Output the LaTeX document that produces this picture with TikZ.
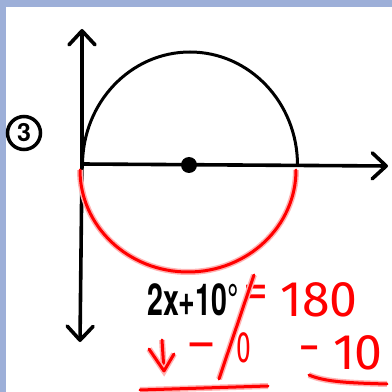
\documentclass[tikz,border=0pt]{standalone}
\usepackage{fontspec}
\setmainfont{TeX Gyre Heros}
\newfontfamily\handfont{Fira Sans}
\usetikzlibrary{arrows.meta}
\definecolor{bandblue}{RGB}{157,175,216}
\begin{document}
\begin{tikzpicture}[x=1pt,y=1pt,
  axis/.style={line width=3.6pt, line cap=round,
    -{Straight Barb[length=14pt,width=26pt,line width=3.6pt,round]}},
  ink/.style={draw=black,line width=3pt,line cap=round},
  redink/.style={draw=red,line width=3pt,line cap=round,line join=round,
    preaction={draw=red!30,line width=6pt}},
  redtext/.style={text=red,font=\handfont\fontsize{50}{50}\selectfont,inner sep=0pt},
  blacktext/.style={text=black,font=\bfseries\fontsize{44}{44}\selectfont,inner sep=0pt}]
\fill[white] (0,0) rectangle (392,392);
\useasboundingbox (0,0) rectangle (392,392);
\fill[bandblue] (0,385) rectangle (392,392);
\fill[bandblue] (0,0) rectangle (6,392);
% axes
\coordinate (O) at (82,228);
\coordinate (top) at (82,363);
\coordinate (bot) at (80,50);
\coordinate (right) at (388,226);
\draw[axis] (O) -- (top);
\draw[axis] (O) -- (bot);
\draw[axis] (O) -- (right);
% circle
\draw[ink] (82.5,227) arc[start angle=180,end angle=0,x radius=107.5,y radius=113];
\draw[redink] (80,222) arc[start angle=180,end angle=360,x radius=108,y radius=102];
\node[circle,fill=black,minimum size=16pt,inner sep=0pt] (ctr) at (189,227) {};
% circled 3
\node[circle,draw=black,line width=3.5pt,minimum size=33pt,inner sep=0pt,
  font=\bfseries\fontsize{25}{25}\selectfont] (num) at (24,259) {3};
% black label
\node[blacktext] (lbl) at (193,92) {\scalebox{0.65}[1]{2x+10°}};
% red work
\node[redtext] (eq) at (256,95) {=};
\node[redtext] (oneeighty) at (319,92) {180};
\coordinate (s1) at (254,117);
\coordinate (s2) at (219,13);
\draw[redink] (s1) -- (s2);
\coordinate (a1) at (162,52);
\coordinate (a2) at (164,21);
\coordinate (a3) at (149,43);
\coordinate (a4) at (174,38);
\draw[redink] (a1) -- (a2);
\draw[redink] (a3) -- (a2) -- (a4);
\node[redtext,anchor=base] (minusL) at (201,31) {–};
\node[redtext] (zeroL) at (244,44) {\fontsize{44}{44}\selectfont\scalebox{0.6}[1]{0}};
\node[redtext,anchor=base] (minusR) at (310,28) {\scalebox{0.7}[1]{–}};
\node[redtext] (tenR) at (358,39) {10};
\coordinate (u1) at (309,17);
\coordinate (u2) at (387,8);
\draw[redink] (u1) .. controls (325,10) and (350,9) .. (u2);
\coordinate (b1) at (140,2);
\coordinate (b2) at (268,6);
\draw[redink] (b1) -- (b2);
\end{tikzpicture}
\end{document}
